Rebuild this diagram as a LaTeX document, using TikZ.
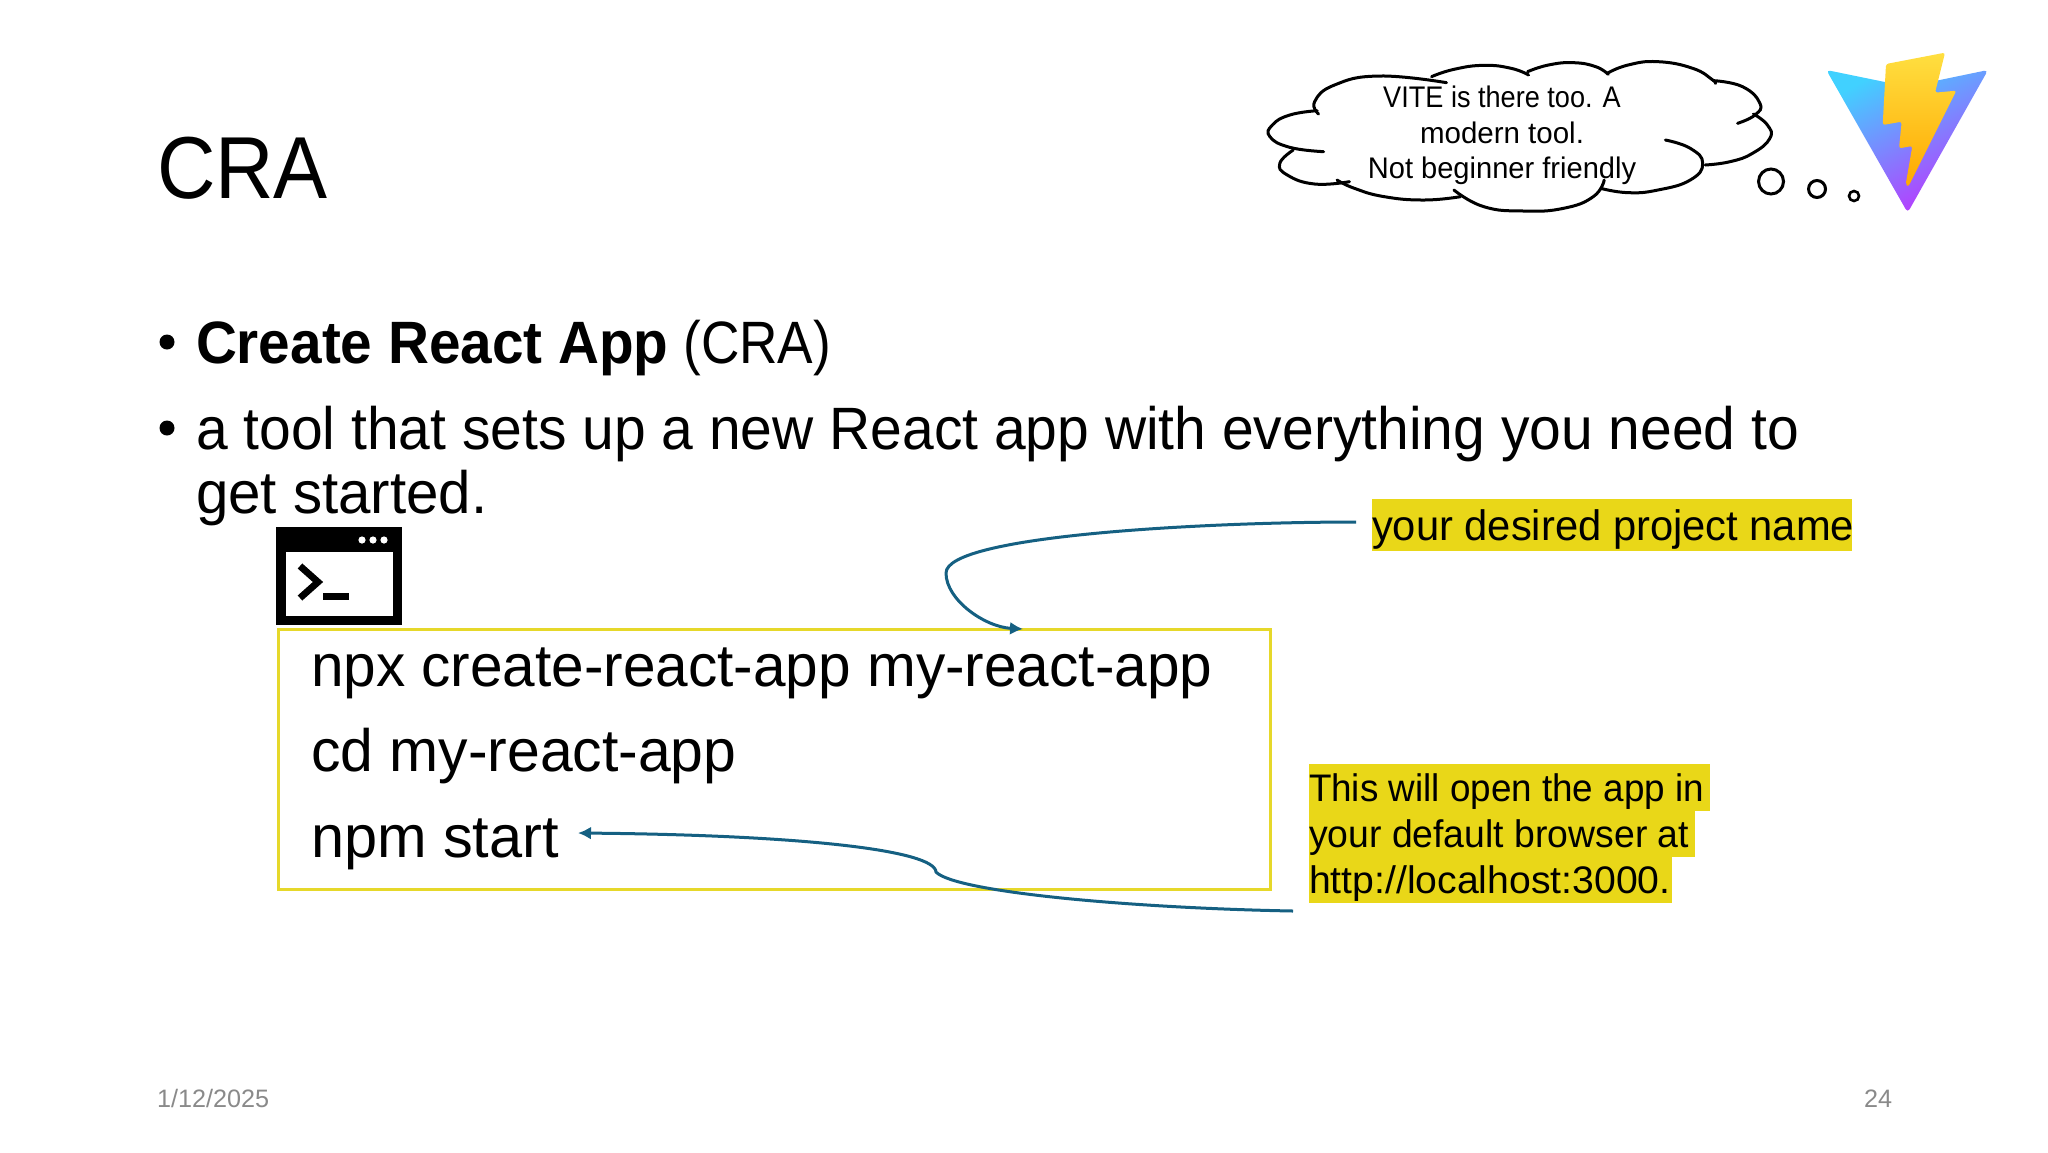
\documentclass[tikz,border=0pt]{standalone}
\usepackage{graphicx}
\usepackage{fontspec}
\setmainfont{Liberation Sans}
\newfontfamily\footfont{Liberation Sans}
\usetikzlibrary{arrows.meta}
\newcommand{\fitw}[2]{\scalebox{#1}[1]{#2}}
\definecolor{hl}{HTML}{E9D718}
\definecolor{boxy}{HTML}{E6D82A}
\definecolor{conn}{HTML}{156082}
\definecolor{foot}{HTML}{8A8A8A}
\definecolor{vblue}{HTML}{41D1FF}
\definecolor{vpurple}{HTML}{BD34FE}
\definecolor{vy1}{HTML}{FFDF40}
\definecolor{vy2}{HTML}{FFA800}
\tikzset{
  txt/.style={inner sep=0pt,outer sep=0pt,anchor=base west,text=black},
  titletxt/.style={txt,font=\fontsize{44}{48}\selectfont},
  bodytxt/.style={txt,font=\fontsize{29.9}{32}\selectfont},
  labeltxt/.style={txt,font=\fontsize{21.3}{24}\selectfont},
  smalltxt/.style={txt,font=\fontsize{19.2}{22}\selectfont},
  thinktxt/.style={inner sep=0pt,outer sep=0pt,anchor=base,text=black,font=\fontsize{14.9}{17}\selectfont},
  foottxt/.style={inner sep=0pt,outer sep=0pt,text=foot,font=\footfont\fontsize{12.6}{14}\selectfont},
  hlbox/.style={fill=hl,draw=none},
  connector/.style={draw=conn,line width=1.5pt,-{Latex[length=6.5pt,width=6.5pt]}},
  cloudline/.style={draw=black,line width=1.5pt,line cap=round,line join=round},
  bubble/.style={draw=black,line width=1.5pt,fill=white,circle,inner sep=0pt,outer sep=0pt},
}
\begin{document}
\begin{tikzpicture}[x=0.5pt,y=-0.5pt]
\useasboundingbox (0,0) rectangle (2048,1152);
\fill[white] (0,0) rectangle (2048,1152);

% title and bullets
\node[titletxt] (title) at (157,198) {\fitw{.92}{CRA}};
\fill[black] (167,342) circle (7.5) (167,428) circle (7.5);
\node[bodytxt] (t1) at (196,363) {\fitw{.948}{\textbf{Create React App}}\fitw{.89}{ (CRA)}};
\node[bodytxt] (t2) at (196,449) {\fitw{.953}{a tool that sets up a new React app with everything you need to}};
\node[bodytxt] (t3) at (196,513) {\fitw{.974}{get started.}};

% terminal icon
\fill[black] (276,527) rectangle (402,625);
\fill[white] (286,552) rectangle (393,616);
\fill[white] (362,540) circle (3.6) (373,540) circle (3.6) (384,540) circle (3.6);
\draw[black,line width=3.4pt] (300,566) -- (318,582) -- (300,598);
\fill[black] (323,593) rectangle (349,600);

% code box
\node[draw=boxy,line width=1.5pt,minimum width=496pt,minimum height=130pt,inner sep=0pt,outer sep=0pt,anchor=north west] (codebox) at (278,629) {};
\node[bodytxt] (c1) at (311,686) {\fitw{.979}{npx create-react-app my-react-app}};
\node[bodytxt] (c2) at (311,771) {\fitw{.985}{cd my-react-app}};
\node[bodytxt] (c3) at (311,857) {\fitw{.995}{npm start}};

% highlighted labels
\fill[hlbox] (1372,499) rectangle (1852,551);
\node[labeltxt] (l1) at (1372,540) {\fitw{.979}{your desired project name}};
\fill[hlbox] (1309,764) rectangle (1710,811);
\fill[hlbox] (1309,811) rectangle (1695,857);
\fill[hlbox] (1309,857) rectangle (1672,903);
\node[smalltxt] (l2) at (1309,801) {\fitw{.959}{This will open the app in}};
\node[smalltxt] (l3) at (1309,847) {\fitw{.973}{your default browser at}};
\node[smalltxt] (l4) at (1309,893) {\fitw{1.02}{http://localhost:3000.}};

% connectors
\coordinate (a1s) at (1356,522);
\coordinate (a1m) at (946,573);
\coordinate (a1e) at (1023,629);
\coordinate (a2s) at (1293,911);
\coordinate (a2m) at (936,872);
\coordinate (a2e) at (578,833);
\draw[connector] (a1s) .. controls (1210,522) and (946,535) .. (a1m) .. controls (946,600) and (985,627) .. (a1e);
\draw[connector] (a2s) .. controls (1130,908) and (955,892) .. (a2m) .. controls (935,850) and (800,835) .. (a2e);

% thought cloud
\begin{scope}[shift={(1240,40)},x=0.24876pt,y=-0.16667pt]
\draw[cloudline] plot[smooth,tension=.8] coordinates {(158,222)(150,185)(190,135)(280,108)(415,128)};
\draw[cloudline] plot[smooth,tension=.8] coordinates {(385,110)(430,88)(490,76)(545,85)(580,105)};
\draw[cloudline] plot[smooth,tension=.8] coordinates {(578,95)(620,75)(670,68)(715,80)(740,103)};
\draw[cloudline] plot[smooth,tension=.8] coordinates {(738,100)(780,75)(840,65)(910,85)(950,120)(955,130)};
\draw[cloudline] plot[smooth,tension=.8] coordinates {(952,122)(1010,140)(1045,190)(1035,225)(1000,250)};
\draw[cloudline] plot[smooth,tension=.8] coordinates {(1032,222)(1060,255)(1065,295)(1030,340)(985,365)(935,375)};
\draw[cloudline] plot[smooth,tension=.8] coordinates {(855,300)(905,325)(930,370)(905,420)(840,450)(780,458)(725,445)};
\draw[cloudline] plot[smooth,tension=.8] coordinates {(732,420)(710,470)(650,505)(570,513)(490,500)(430,450)};
\draw[cloudline] plot[smooth,tension=.8] coordinates {(443,470)(370,480)(290,470)(230,445)(195,420)};
\draw[cloudline] plot[smooth,tension=.8] coordinates {(220,425)(150,432)(95,405)(80,370)(107,330)};
\draw[cloudline] plot[smooth,tension=.8] coordinates {(168,335)(100,322)(60,290)(65,255)(100,225)(155,212)};
\end{scope}
\node[thinktxt] (th1) at (1502,107) {\fitw{.91}{VITE is there too. A}};
\node[thinktxt] (th2) at (1502,143) {\fitw{.99}{modern tool.}};
\node[thinktxt] (th3) at (1502,178) {\fitw{.976}{Not beginner friendly}};
\node[bubble,minimum size=12.5pt] (bub1) at (1771,181.5) {};
\node[bubble,minimum size=8.5pt] (bub2) at (1817,189) {};
\node[bubble,minimum size=5pt,line width=1.3pt] (bub3) at (1854,196) {};

% vite logo
\begin{scope}[shift={(1800,40)},x=0.16667pt,y=-0.16667pt]
\shade[top color=vblue,bottom color=vpurple,shading angle=28,rounded corners=2pt]
  (79,90) -- (323,140) -- (564,90) -- (323,518) -- cycle;
\shade[top color=vy1,bottom color=vy2,rounded corners=1.2pt]
  (258,72) -- (435,38) -- (405,158) -- (469,152) -- (325,440) -- (317,433) -- (337,318) -- (297,325) -- (305,245) -- (248,255) -- cycle;
\end{scope}

% footer
\node[foottxt,anchor=base west] (date) at (157,1107) {1/12/2025};
\node[foottxt,anchor=base east] (page) at (1892,1107) {24};
\end{tikzpicture}
\end{document}
